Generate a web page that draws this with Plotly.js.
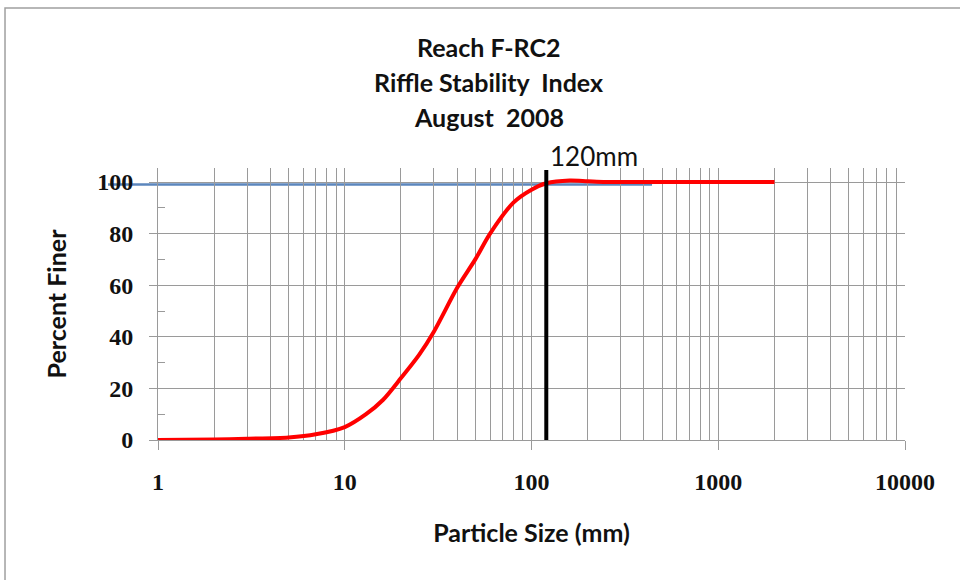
<!DOCTYPE html>
<html>
<head>
<meta charset="utf-8">
<script src="https://cdn.plot.ly/plotly-3.0.1.min.js"></script>
<style>html,body{margin:0;padding:0;background:#fff;}#chart{width:960px;height:580px;}</style>
</head>
<body>
<div id="chart"></div>
<script>
// Particle-size distribution (mm) vs percent finer
const particleSize = [1, 2, 3, 5, 7, 10, 13, 16, 20, 25, 30, 40, 50, 60, 80, 100, 120, 160, 200, 250, 500, 1000, 2000];
const percentFiner = [0, 0.2, 0.5, 1, 2.2, 5, 10, 15.5, 24, 33, 42, 59, 70, 80, 92, 97, 99.5, 100.6, 100.3, 100, 100, 100, 100];

// Reference line (blue) and the 120 mm marker (black)
const refLineX = [0.54, 442];
const refLineY = [99, 99];
const markerX = [120, 120];
const markerY = [0, 104.7];
const markerLabel = '120mm';

const titleLines = ['Reach F-RC2', 'Riffle Stability  Index', 'August  2008'];
const xTickVals = [1, 10, 100, 1000, 10000];
const xTickText = ['1', '10', '100', '1000', '10000'];
const yTickVals = [0, 20, 40, 60, 80, 100];

const xRange = [0, 4];          // log10 range
const yRange = [0, 105.43];

function toPaperX(v) { return (Math.log10(v) - xRange[0]) / (xRange[1] - xRange[0]); }

const grid = '#9a9a9a';
const sans = 'Lato, "Liberation Sans", sans-serif';
const serif = '"Liberation Serif", "DejaVu Serif", serif';

const traces = [
  {
    x: particleSize, y: percentFiner, type: 'scatter', mode: 'lines',
    line: {color: '#ff0000', width: 4, shape: 'spline', smoothing: 0.8},
    hoverinfo: 'x+y', showlegend: false
  },
  {
    x: markerX, y: markerY, type: 'scatter', mode: 'lines',
    line: {color: '#000000', width: 4}, showlegend: false
  }
];

const titleY = [1.445, 1.316, 1.1875];
const annotations = titleLines.map((t, i) => ({
  text: t, xref: 'paper', yref: 'paper', x: 0.443, y: titleY[i],
  xanchor: 'center', yanchor: 'middle', showarrow: false,
  font: {family: sans, size: 25, color: '#111', weight: 'bold'}
}));
annotations.push({
  text: markerLabel, xref: 'x', yref: 'paper', x: Math.log10(markerX[0]), y: 1.043,
  xanchor: 'left', yanchor: 'middle', xshift: 2, showarrow: false,
  font: {family: sans, size: 26, color: '#111'}
});

const layout = {
  width: 960, height: 580,
  margin: {l: 158, r: 55, t: 168, b: 140},
  paper_bgcolor: '#ffffff', plot_bgcolor: '#ffffff',
  showlegend: false,
  xaxis: {
    type: 'log', range: xRange,
    tickvals: xTickVals, ticktext: xTickText,
    ticks: 'outside', ticklen: 9, tickcolor: grid, tickwidth: 1,
    showgrid: true, gridcolor: grid, gridwidth: 1,
    minor: {dtick: 'D1', showgrid: true, gridcolor: grid, gridwidth: 1, ticks: ''},
    showline: true, linecolor: grid, linewidth: 1, zeroline: false,
    tickfont: {family: serif, size: 24, color: '#111', weight: 'bold'},
    ticklabelstandoff: 11,
    title: {text: 'Particle Size (mm)', standoff: 30,
            font: {family: sans, size: 25, color: '#111', weight: 'bold'}}
  },
  yaxis: {
    range: yRange, tickvals: yTickVals,
    ticks: 'outside', ticklen: 8, tickcolor: grid, tickwidth: 1,
    showgrid: true, gridcolor: grid, gridwidth: 1,
    minor: {dtick: 10, ticks: 'inside', ticklen: 7, tickcolor: grid, showgrid: false},
    showline: true, linecolor: grid, linewidth: 1, zeroline: false,
    tickfont: {family: serif, size: 24, color: '#111', weight: 'bold'},
    ticklabelstandoff: 11,
    title: {text: 'Percent Finer', standoff: 23,
            font: {family: sans, size: 25, color: '#111', weight: 'bold'}}
  },
  annotations: annotations,
  shapes: [
    {type: 'rect', xref: 'paper', yref: 'paper', x0: -0.2048, x1: 1.08, y0: -0.56, y1: 1.588,
     line: {color: '#a0a0a0', width: 1.5}, fillcolor: 'rgba(0,0,0,0)', layer: 'below'},
    {type: 'line', xref: 'paper', yref: 'y', x0: toPaperX(refLineX[0]), x1: toPaperX(refLineX[1]),
     y0: refLineY[0], y1: refLineY[1], line: {color: '#5b86bd', width: 2.5}, layer: 'below'}
  ]
};

Plotly.newPlot('chart', traces, layout, {displayModeBar: false, staticPlot: true});
</script>
</body>
</html>
